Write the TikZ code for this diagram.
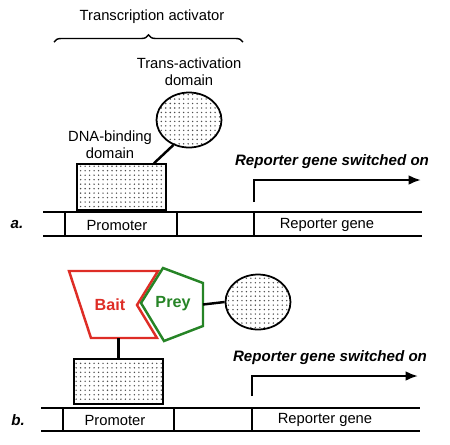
\documentclass[tikz,border=0pt]{standalone}
\usepackage{fontspec}
\setmainfont{Liberation Sans}
\usetikzlibrary{shapes.geometric,patterns.meta,decorations.pathreplacing,arrows.meta}

\definecolor{baitred}{RGB}{222,45,38}
\definecolor{preygreen}{RGB}{38,132,38}

\tikzset{
  lbl/.style={font=\fontsize{8.4}{9.6}\selectfont, align=center, inner sep=0pt},
  on/.style={font=\fontsize{8.6}{10}\selectfont\bfseries\itshape, inner sep=0pt},
  panel/.style={font=\fontsize{8.6}{10}\selectfont\bfseries\itshape, inner sep=0pt},
  dotfill/.style={pattern={Dots[distance=2.55pt,radius=0.45pt]}, pattern color=black!70},
  tad/.style={ellipse, draw, line width=1pt, minimum width=1.3cm, minimum height=1.1cm, inner sep=0pt, dotfill},
  dbd/.style={rectangle, draw, line width=1pt, minimum width=1.78cm, minimum height=0.91cm, inner sep=0pt, dotfill},
  link/.style={line width=1.4pt},
  dna/.style={line width=0.7pt},
  tx/.style={line width=1.3pt, -{Latex[length=7pt,width=5.5pt]}},
  baitbox/.style={draw=baitred, line width=1.4pt, line join=miter},
  preybox/.style={draw=preygreen, line width=1.4pt, line join=miter},
  baittxt/.style={font=\fontsize{9.2}{10}\selectfont\bfseries, text=baitred, inner sep=0pt},
  preytxt/.style={font=\fontsize{9.2}{10}\selectfont\bfseries, text=preygreen, inner sep=0pt}
}

\begin{document}
\begin{tikzpicture}[x=0.02cm,y=-0.02cm]
\useasboundingbox (0,0) rectangle (450,444);

% a.
\node[lbl] (activator) at (152,17) {Transcription activator};
\draw[line width=0.8pt, decorate, decoration={brace,amplitude=4pt}] (54,42) -- (243,42);

\node[lbl] (tadlabel) at (189,72) {Trans-activation\\domain};
\node[tad] (tad) at (189,120) {};
\node[lbl] (dbdlabel) at (110,145) {DNA-binding\\domain};
\node[dbd] (dbd) at (121.5,187) {};
\draw[link] (tad.238) -- ([xshift=-7.4pt]dbd.north east);

\draw[dna] (43,212) -- (422,212) (43,236) -- (422,236);
\foreach \x in {65,177,254}
	\draw[dna] (\x,212) -- (\x,236);
\node[panel] (a) at (17,225) {a.};
\node[lbl] (prom) at (117,225) {Promoter};
\node[lbl] (rep) at (327,225) {Reporter gene};

\coordinate (tss) at (254,202);
\coordinate (tip) at (421,180);
\draw[tx] (tss) |- (tip);
\node[on] (ona) at (332,162) {Reporter gene switched on};

% b.
\coordinate (b1) at (69,271);
\coordinate (b2) at (158,271);
\coordinate (b3) at (137,305);
\coordinate (b4) at (157,338);
\coordinate (b5) at (91,338);
\draw[baitbox] (b1) -- (b2) -- (b3) -- (b4) -- (b5) -- cycle;

\coordinate (p1) at (141,303);
\coordinate (p2) at (163,268);
\coordinate (p3) at (203,283);
\coordinate (p4) at (203,326);
\coordinate (p5) at (164,341);
\draw[preybox] (p1) -- (p2) -- (p3) -- (p4) -- (p5) -- cycle;
\coordinate (preyright) at (203,304.5);

\node[baittxt] (bait) at (110,305) {Bait};
\node[preytxt] (prey) at (173,304) {Prey};
\node[tad] (tad2) at (258,302) {};
\draw[link] (preyright) -- (tad2.west);

\node[dbd] (dbd2) at (118.5,381.5) {};
\draw[link] (dbd2.north) -- (dbd2.north |- b5);

\draw[dna] (41,408) -- (420,408) (41,431) -- (420,431);
\foreach \x in {63,174,252}
	\draw[dna] (\x,408) -- (\x,431);
\node[panel] (b) at (18,420) {b.};
\node[lbl] (prom2) at (115,420) {Promoter};
\node[lbl] (rep2) at (325,420) {Reporter gene};

\coordinate (tss2) at (252,396);
\coordinate (tip2) at (418,376);
\draw[tx] (tss2) |- (tip2);
\node[on] (onb) at (330,358) {Reporter gene switched on};
\end{tikzpicture}
\end{document}
